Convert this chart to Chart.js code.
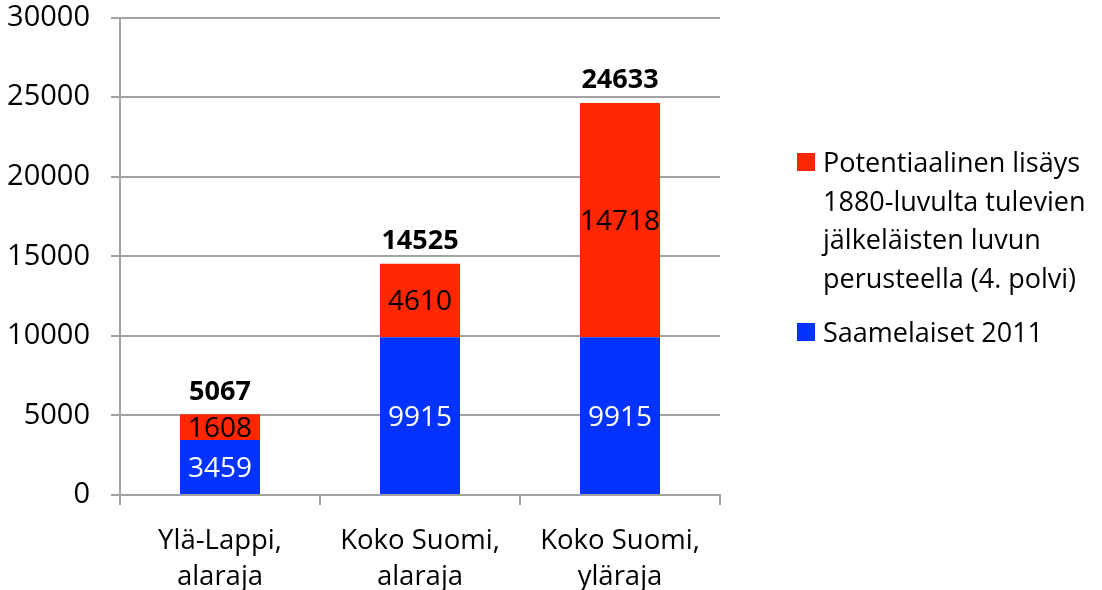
<!DOCTYPE html>
<html>
<head>
<meta charset="utf-8">
<script src="https://cdn.jsdelivr.net/npm/chart.js@4.4.1/dist/chart.umd.min.js"></script>
<style>
    html, body { margin: 0; padding: 0; background: #fff; }
    #wrap { position: relative; width: 1102px; height: 590px; }
    #legend {
        position: absolute;
        left: 797px;
        top: 143px;
        font-family: 'Open Sans', sans-serif;
        font-size: 27px;
        color: #000;
    }
    .item { display: flex; align-items: flex-start; }
    .item + .item { margin-top: 16px; }
    .swatch { width: 18px; height: 18px; margin-top: 10px; margin-right: 8px; flex: none; }
    .text { line-height: 38.6px; white-space: pre-line; }
</style>
</head>
<body>
<div id="wrap">
    <canvas id="chart" width="1102" height="590"></canvas>
    <div id="legend"></div>
</div>
<script>
// Chart data
const categories = [['Ylä-Lappi,', 'alaraja'], ['Koko Suomi,', 'alaraja'], ['Koko Suomi,', 'yläraja']];
const saamelaiset = [3459, 9915, 9915];
const lisays = [1608, 4610, 14718];
const yTicks = [0, 5000, 10000, 15000, 20000, 25000, 30000];

const seriesNames = [
    'Potentiaalinen lisäys\n1880-luvulta tulevien\njälkeläisten luvun\nperusteella (4. polvi)',
    'Saamelaiset 2011'
];

const BLUE = '#0433FF';
const RED = '#FF2600';
const GRID = '#a2a2a2';
const FONT = "'Open Sans', sans-serif";

// Value labels inside segments + bold totals above bars
const barLabels = {
    id: 'barLabels',
    afterDatasetsDraw(chart) {
        const ctx = chart.ctx;
        ctx.save();
        ctx.textAlign = 'center';
        ctx.textBaseline = 'middle';
        ctx.font = '28px ' + FONT;
        chart.data.datasets.forEach((ds, i) => {
            const meta = chart.getDatasetMeta(i);
            meta.data.forEach((bar, j) => {
                ctx.fillStyle = ds.labelColor;
                ctx.fillText(String(ds.data[j]), bar.x, (bar.y + bar.base) / 2 + 2);
            });
        });
        // totals
        ctx.font = 'bold 27px ' + FONT;
        ctx.fillStyle = '#000';
        ctx.textBaseline = 'bottom';
        const topMeta = chart.getDatasetMeta(1);
        topMeta.data.forEach((bar, j) => {
            const total = saamelaiset[j] + lisays[j];
            ctx.fillText(String(total), bar.x, bar.y - 9);
        });
        ctx.restore();
    }
};

const chart = new Chart(document.getElementById('chart'), {
    type: 'bar',
    data: {
        labels: categories,
        datasets: [
            {
                label: seriesNames[1],
                data: saamelaiset,
                backgroundColor: BLUE,
                labelColor: '#fff',
                barPercentage: 0.4,
                categoryPercentage: 1
            },
            {
                label: seriesNames[0],
                data: lisays,
                backgroundColor: RED,
                labelColor: '#000',
                barPercentage: 0.4,
                categoryPercentage: 1
            }
        ]
    },
    options: {
        responsive: false,
        animation: false,
        layout: {
            padding: { top: 17.5, right: 382, left: 0, bottom: 0 }
        },
        plugins: {
            legend: { display: false },
            tooltip: { enabled: false }
        },
        scales: {
            x: {
                stacked: true,
                grid: {
                    drawOnChartArea: false,
                    drawTicks: true,
                    tickLength: 10,
                    color: GRID,
                    lineWidth: 2
                },
                border: { color: GRID, width: 2 },
                ticks: {
                    color: '#000',
                    padding: 18,
                    font: { family: FONT, size: 27.5, lineHeight: 1.31 }
                },
                afterFit(scale) { scale.height = 95; }
            },
            y: {
                stacked: true,
                min: 0,
                max: 30000,
                afterBuildTicks(scale) {
                    scale.ticks = yTicks.map(v => ({ value: v }));
                },
                grid: {
                    color: GRID,
                    lineWidth: 2,
                    tickLength: 9
                },
                border: { color: GRID, width: 2 },
                ticks: {
                    color: '#000',
                    padding: 21,
                    font: { family: FONT, size: 29 },
                    callback: value => String(value)
                },
                afterFit(scale) {
                    scale.width = 120;
                    scale.paddingTop = 0;
                    scale.paddingBottom = 0;
                }
            }
        }
    },
    plugins: [barLabels]
});

// HTML legend, red series first like the original
const legendEl = document.getElementById('legend');
[1, 0].forEach(i => {
    const ds = chart.data.datasets[i];
    const item = document.createElement('div');
    item.className = 'item';
    item.innerHTML = `<span class="swatch" style="background:${ds.backgroundColor}"></span><span class="text"></span>`;
    item.querySelector('.text').textContent = ds.label;
    legendEl.appendChild(item);
});
</script>
</body>
</html>
